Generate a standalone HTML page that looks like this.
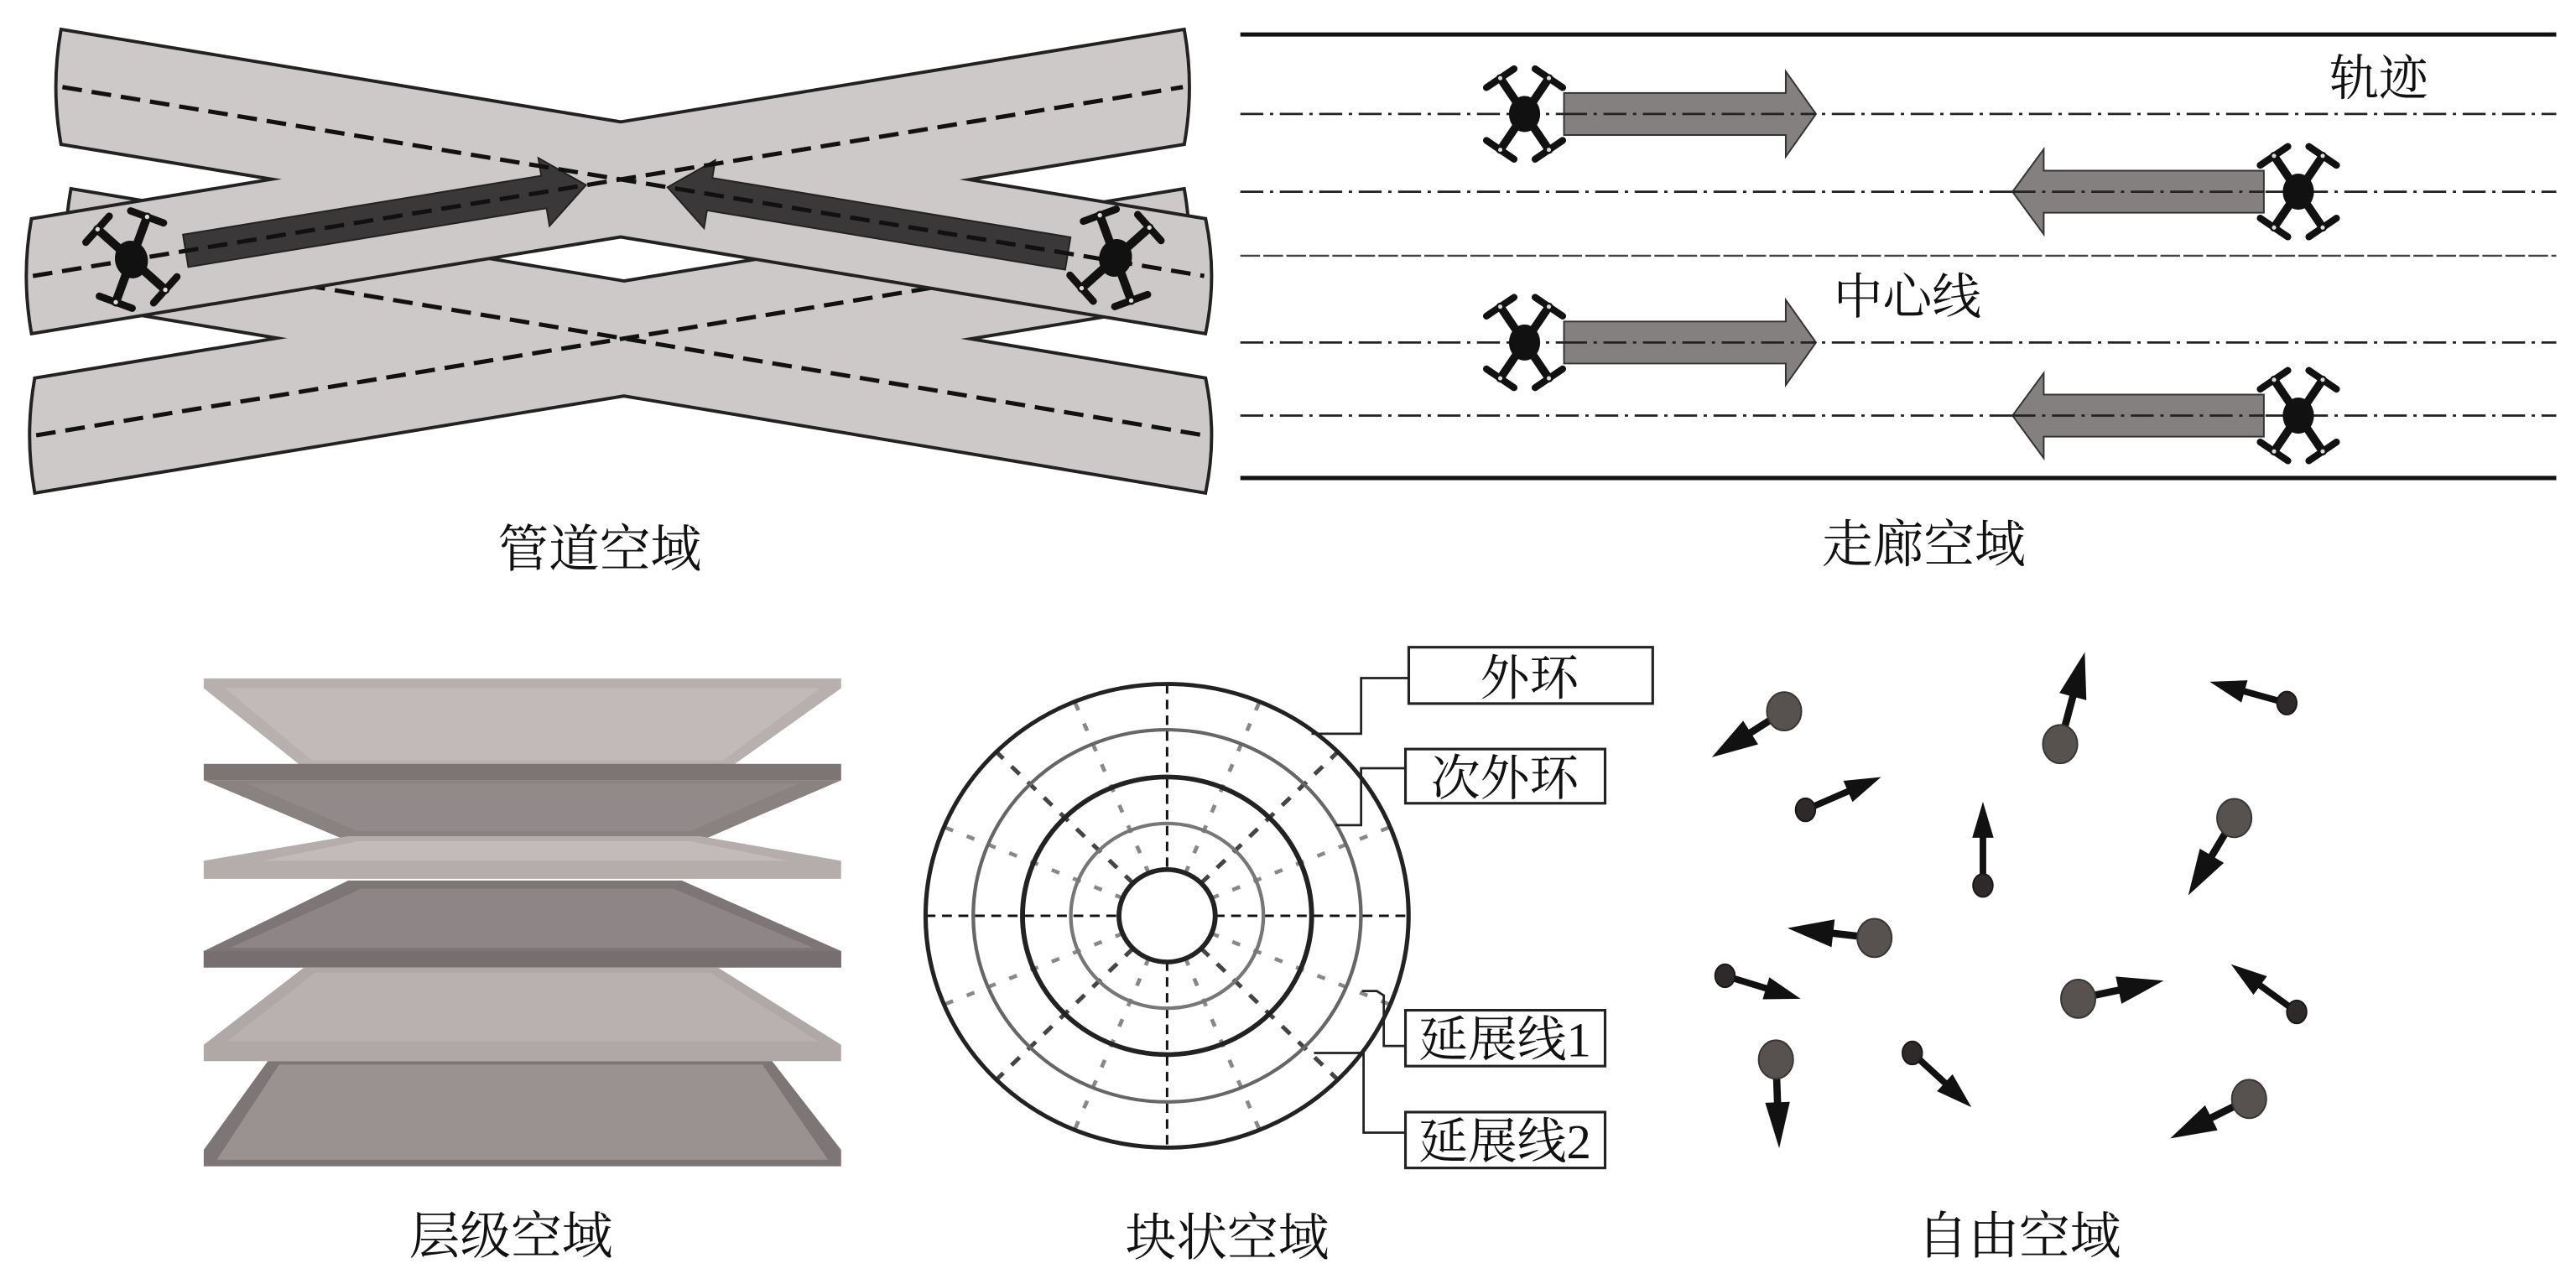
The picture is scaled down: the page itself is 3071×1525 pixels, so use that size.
<!DOCTYPE html>
<html><head><meta charset="utf-8">
<style>
html,body{margin:0;padding:0;background:#fff;}
svg{display:block;}
.cap{font-family:"Liberation Serif","Noto Serif CJK SC","Noto Serif CJK JP","Noto Serif CJK TC",serif;font-size:31px;fill:#111;}
.lbl{font-family:"Liberation Serif","Noto Serif CJK SC","Noto Serif CJK JP","Noto Serif CJK TC",serif;font-size:30px;fill:#111;}
</style></head>
<body>
<svg width="3071" height="1525" viewBox="0 0 1568 778.6" preserveAspectRatio="none" xmlns="http://www.w3.org/2000/svg">
<defs>
 <g id="drone">
  <g stroke="#111" stroke-width="5" stroke-linecap="round">
   <line x1="0" y1="0" x2="14.8" y2="-21.8"/>
   <line x1="0" y1="0" x2="-14.8" y2="-21.8"/>
   <line x1="0" y1="0" x2="14.8" y2="21.8"/>
   <line x1="0" y1="0" x2="-14.8" y2="21.8"/>
  </g>
  <g stroke="#111" stroke-width="4.2" stroke-linecap="round">
   <line x1="23.2" y1="-16.1" x2="6.4" y2="-27.5"/>
   <line x1="-6.4" y1="-27.5" x2="-23.2" y2="-16.1"/>
   <line x1="23.2" y1="16.1" x2="6.4" y2="27.5"/>
   <line x1="-23.2" y1="16.1" x2="-6.4" y2="27.5"/>
  </g>
  <ellipse cx="0" cy="0" rx="9.5" ry="11" fill="#111"/>
  <g fill="#ddd"><circle cx="14.8" cy="-21.8" r="1.3"/><circle cx="-14.8" cy="-21.8" r="1.3"/><circle cx="14.8" cy="21.8" r="1.3"/><circle cx="-14.8" cy="21.8" r="1.3"/></g>
 </g>
</defs>

<!-- ============ PIPE PANEL ============ -->
<g stroke="#222" stroke-width="4" fill="#cdc9c8">
 <path d="M44,116 L733,231 Q740,265 733,299 L44,184 Q38,150 44,116 Z"/>
 <path d="M22,231 L720,116 Q726,150 720,184 L22,299 Q16,265 22,231 Z"/>
</g>
<g fill="#cdc9c8">
 <path d="M44,116 L733,231 Q740,265 733,299 L44,184 Q38,150 44,116 Z"/>
 <path d="M22,231 L720,116 Q726,150 720,184 L22,299 Q16,265 22,231 Z"/>
</g>
<g stroke="#111" stroke-width="2.6" stroke-dasharray="12 6" fill="none">
 <line x1="44" y1="150" x2="733" y2="265"/>
 <line x1="22" y1="265" x2="720" y2="150"/>
</g>
<g stroke="#222" stroke-width="4" fill="#cdc9c8">
 <path d="M38,19 L733,134 Q740,168 733,202 L38,87 Q32,53 38,19 Z"/>
 <path d="M20,134 L720,19 Q726,53 720,87 L20,202 Q14,168 20,134 Z"/>
</g>
<g fill="#cdc9c8">
 <path d="M38,19 L733,134 Q740,168 733,202 L38,87 Q32,53 38,19 Z"/>
 <path d="M20,134 L720,19 Q726,53 720,87 L20,202 Q14,168 20,134 Z"/>
</g>
<g transform="translate(113,152.7) rotate(-9.33)">
 <path d="M0,-10 L221,-10 L221,-21 L247,0 L221,21 L221,10 L0,10 Z" fill="#3a3838" stroke="#222" stroke-width="1"/>
</g>
<g transform="translate(650,154.3) rotate(189.4)">
 <path d="M0,-10 L221,-10 L221,-21 L247,0 L221,21 L221,10 L0,10 Z" fill="#3a3838" stroke="#222" stroke-width="1"/>
</g>
<g stroke="#111" stroke-width="2.6" stroke-dasharray="12 6" fill="none">
 <line x1="38" y1="53" x2="733" y2="168"/>
 <line x1="20" y1="168" x2="720" y2="53"/>
</g>
<use href="#drone" transform="translate(80,158) rotate(-14) scale(1.05)"/>
<use href="#drone" transform="translate(679,157) rotate(14) scale(1.05)"/>
<text class="cap" x="365" y="345" text-anchor="middle">管道空域</text>

<!-- ============ CORRIDOR PANEL ============ -->
<line x1="755" y1="21" x2="1556" y2="21" stroke="#111" stroke-width="2.6"/>
<line x1="755" y1="291" x2="1556" y2="291" stroke="#111" stroke-width="2.6"/>
<g stroke="#222" stroke-width="1.4" stroke-dasharray="14 4 2 4" fill="none">
 <line x1="755" y1="69.4" x2="1556" y2="69.4"/>
 <line x1="755" y1="116.7" x2="1556" y2="116.7"/>
 <line x1="755" y1="208.5" x2="1556" y2="208.5"/>
 <line x1="755" y1="253" x2="1556" y2="253"/>
</g>
<line x1="755" y1="155.7" x2="1556" y2="155.7" stroke="#444" stroke-width="1.2" stroke-dasharray="12 2"/>
<g fill="#858080" stroke="#333" stroke-width="1">
 <path d="M952,56.6 L1087,56.6 L1087,43.5 L1105.4,69.4 L1087,95.3 L1087,82.2 L952,82.2 Z"/>
 <path d="M952,195.7 L1087,195.7 L1087,182.6 L1105.4,208.5 L1087,234.4 L1087,221.3 L952,221.3 Z"/>
 <path d="M1378,103.9 L1244,103.9 L1244,90.8 L1225,116.7 L1244,142.6 L1244,129.5 L1378,129.5 Z"/>
 <path d="M1378,240.2 L1244,240.2 L1244,227.1 L1225,253 L1244,278.9 L1244,265.8 L1378,265.8 Z"/>
</g>
<g stroke="#222" stroke-width="1.4" stroke-dasharray="14 4 2 4" fill="none">
 <line x1="952" y1="69.4" x2="1105" y2="69.4"/>
 <line x1="952" y1="208.5" x2="1105" y2="208.5"/>
 <line x1="1225" y1="116.7" x2="1378" y2="116.7"/>
 <line x1="1225" y1="253" x2="1378" y2="253"/>
</g>
<use href="#drone" transform="translate(928,69.4)"/>
<use href="#drone" transform="translate(928,208.5)"/>
<use href="#drone" transform="translate(1399,116.7)"/>
<use href="#drone" transform="translate(1399,253)"/>
<text class="lbl" x="1448" y="58" text-anchor="middle">轨迹</text>
<text class="lbl" x="1161" y="191" text-anchor="middle">中心线</text>
<text class="cap" x="1171" y="342" text-anchor="middle">走廊空域</text>

<!-- ============ LAYER PANEL ============ -->
<path d="M124,413 L512,413 L512,419 L446,466 L183,466 L124,419 Z" fill="#b8b0af"/>
<path d="M137,419 L499,419 L440,463 L190,463 Z" fill="#c2bab9"/>
<rect x="124" y="465" width="388" height="10" fill="#7d7474"/>
<path d="M124,475 L512,475 L426,512 L212,512 Z" fill="#8a8181"/>
<path d="M150,477 L486,477 L420,506 L218,506 Z" fill="#928a8a"/>
<path d="M212,509 L426,509 L512,524 L512,535 L124,535 L124,524 Z" fill="#b5adac"/>
<path d="M218,512 L420,512 L480,524 L160,524 Z" fill="#c3bbba"/>
<path d="M212,536 L415,536 L512,579 L512,589 L124,589 L124,579 Z" fill="#7e7576"/>
<path d="M220,541 L410,541 L495,577 L140,577 Z" fill="#8e8686"/>
<rect x="124" y="579" width="388" height="10" fill="#776e6f"/>
<path d="M185,589 L437,589 L512,636 L512,646 L124,646 L124,636 Z" fill="#b0a8a7"/>
<path d="M192,592 L432,592 L498,634 L138,634 Z" fill="#b9b1b0"/>
<path d="M163,646 L470,646 L512,700 L512,710 L124,710 L124,700 Z" fill="#7e7576"/>
<path d="M170,648 L464,648 L504,706 L132,706 Z" fill="#9a9291"/>
<text class="cap" x="311" y="763" text-anchor="middle">层级空域</text>

<!-- ============ BLOCK PANEL ============ -->
<g transform="translate(710.4,557.5) scale(1,0.96)">
 <g fill="none">
  <g stroke="#111" stroke-width="1.5" stroke-dasharray="6 4">
   <line x1="0" y1="-147" x2="0" y2="-29"/><line x1="0" y1="29" x2="0" y2="147"/>
   <line x1="-147" y1="0" x2="-29" y2="0"/><line x1="29" y1="0" x2="147" y2="0"/>
  </g>
  <g stroke="#444" stroke-width="2.6" stroke-dasharray="7 7">
   <line x1="20.5" y1="-20.5" x2="104" y2="-104"/><line x1="-20.5" y1="-20.5" x2="-104" y2="-104"/>
   <line x1="20.5" y1="20.5" x2="104" y2="104"/><line x1="-20.5" y1="20.5" x2="-104" y2="104"/>
  </g>
  <g stroke="#888" stroke-width="2.4" stroke-dasharray="5 9">
   <line x1="11.1" y1="-26.8" x2="56.3" y2="-135.8"/><line x1="-11.1" y1="-26.8" x2="-56.3" y2="-135.8"/>
   <line x1="11.1" y1="26.8" x2="56.3" y2="135.8"/><line x1="-11.1" y1="26.8" x2="-56.3" y2="135.8"/>
   <line x1="26.8" y1="-11.1" x2="135.8" y2="-56.3"/><line x1="-26.8" y1="-11.1" x2="-135.8" y2="-56.3"/>
   <line x1="26.8" y1="11.1" x2="135.8" y2="56.3"/><line x1="-26.8" y1="11.1" x2="-135.8" y2="56.3"/>
  </g>
  <circle r="147" stroke="#222" stroke-width="2.6"/>
  <circle r="118" stroke="#666" stroke-width="2.2"/>
  <circle r="88" stroke="#222" stroke-width="3"/>
  <circle r="58.6" stroke="#777" stroke-width="2.2"/>
  <circle r="29.3" stroke="#222" stroke-width="3"/>
 </g>
</g>
<g fill="none" stroke="#222" stroke-width="1.4">
 <polyline points="857.5,412.8 828.5,412.8 828.5,446.7 798.3,446.7"/>
 <polyline points="855.5,467.7 828.5,467.7 828.5,502.3 813,502.3"/>
 <polyline points="855.5,636.7 842.3,636.7 842.3,606 838,603.3 829,603.3"/>
 <polyline points="855.5,689.5 830,689.5 830,641 799.8,641"/>
 <rect x="857.5" y="394" width="148.5" height="34.3" stroke-width="1.6"/>
 <rect x="855.5" y="456" width="121.5" height="33" stroke-width="1.6"/>
 <rect x="855.5" y="615" width="121.5" height="34" stroke-width="1.6"/>
 <rect x="855.5" y="677" width="121.5" height="34" stroke-width="1.6"/>
</g>
<text class="lbl" x="931" y="423" text-anchor="middle">外环</text>
<text class="lbl" x="916" y="484" text-anchor="middle">次外环</text>
<text class="lbl" x="916" y="643" text-anchor="middle">延展线1</text>
<text class="lbl" x="916" y="705" text-anchor="middle">延展线2</text>
<text class="cap" x="747" y="764" text-anchor="middle">块状空域</text>

<!-- ============ FREE PANEL ============ -->
<g fill="#111">
 <g transform="translate(1042,461) rotate(147.5)"><rect x="-52" y="-2.2" width="26" height="4.4"/><polygon points="0,0 -28,-8.5 -28,8.5"/></g>
 <g transform="translate(1269,397) rotate(-75)"><rect x="-58" y="-2.2" width="32" height="4.4"/><polygon points="0,0 -28,-8.5 -28,8.5"/></g>
 <g transform="translate(1345,415) rotate(195.5)"><rect x="-49" y="-2" width="30" height="4"/><polygon points="0,0 -22,-7 -22,7"/></g>
 <g transform="translate(1145,473) rotate(-23.5)"><rect x="-50" y="-2" width="30" height="4"/><polygon points="0,0 -22,-7 -22,7"/></g>
 <g transform="translate(1332,545) rotate(120.8)"><rect x="-55" y="-2.2" width="29" height="4.4"/><polygon points="0,0 -28,-8.5 -28,8.5"/></g>
 <g transform="translate(1207,488) rotate(90) rotate(180)"><rect x="-51" y="-2" width="31" height="4"/><polygon points="0,0 -22,-6.5 -22,6.5"/></g>
 <g transform="translate(1088,565) rotate(186.5)"><rect x="-53" y="-2.2" width="27" height="4.4"/><polygon points="0,0 -28,-8.5 -28,8.5"/></g>
 <g transform="translate(1096,608) rotate(16.9)"><rect x="-48" y="-2" width="28" height="4"/><polygon points="0,0 -22,-7 -22,7"/></g>
 <g transform="translate(1317,597) rotate(-11.9)"><rect x="-53" y="-2.2" width="27" height="4.4"/><polygon points="0,0 -28,-8.5 -28,8.5"/></g>
 <g transform="translate(1358,587) rotate(216)"><rect x="-49" y="-2" width="29" height="4"/><polygon points="0,0 -22,-7 -22,7"/></g>
 <g transform="translate(1083,699) rotate(87.9)"><rect x="-54" y="-2.2" width="28" height="4.4"/><polygon points="0,0 -28,-7.5 -28,7.5"/></g>
 <g transform="translate(1200,674) rotate(42.5)"><rect x="-49" y="-2" width="29" height="4"/><polygon points="0,0 -22,-7 -22,7"/></g>
 <g transform="translate(1321,693) rotate(153.4)"><rect x="-54" y="-2.2" width="28" height="4.4"/><polygon points="0,0 -28,-8.5 -28,8.5"/></g>
</g>
<g fill="#57514f" stroke="#3a3534" stroke-width="1">
 <ellipse cx="1086" cy="433" rx="10.5" ry="11.7"/>
 <ellipse cx="1254" cy="453" rx="10.5" ry="11.7"/>
 <ellipse cx="1360" cy="498" rx="10.5" ry="11.7"/>
 <ellipse cx="1141" cy="571" rx="10.5" ry="11.7"/>
 <ellipse cx="1265" cy="608" rx="10.5" ry="11.7"/>
 <ellipse cx="1081" cy="645" rx="10.5" ry="11.7"/>
 <ellipse cx="1369" cy="669" rx="10.5" ry="11.7"/>
</g>
<g fill="#2e2a29" stroke="#1a1716" stroke-width="1">
 <ellipse cx="1392" cy="428" rx="6" ry="7"/>
 <ellipse cx="1099" cy="493" rx="6" ry="7"/>
 <ellipse cx="1207" cy="539" rx="6" ry="7"/>
 <ellipse cx="1050" cy="594" rx="6" ry="7"/>
 <ellipse cx="1398" cy="616" rx="6" ry="7"/>
 <ellipse cx="1164" cy="641" rx="6" ry="7"/>
</g>
<text class="cap" x="1229" y="763" text-anchor="middle">自由空域</text>
</svg>
</body></html>
